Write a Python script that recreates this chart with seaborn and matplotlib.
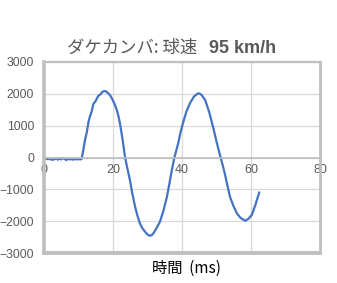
import matplotlib
matplotlib.use("Agg")
import matplotlib.pyplot as plt
import seaborn as sns
import pandas as pd
from matplotlib.ticker import MultipleLocator

# ---- data ----
time_ms = [0, 0.5, 1, 1.5, 2, 2.5, 3, 3.5, 4, 4.5, 5, 5.5, 6, 6.5, 7, 7.5, 8, 8.5, 9, 9.5, 10, 10.5, 10.9,
           11.4, 11.9, 12.4, 12.9, 13.3, 13.8, 14.3, 15.0, 15.7, 16.3, 17.0, 17.7, 18.4, 19.1, 19.8, 20.5,
           21.1, 21.6, 22.0, 22.4, 22.8, 23.5, 24.2, 24.9, 25.6, 26.4, 27.1, 27.8, 28.5, 29.3, 30.0, 30.7,
           31.2, 31.7, 32.6, 33.6, 34.6, 35.6, 36.3, 37.0, 37.8, 38.9, 39.6, 40.4, 41.3, 42.3, 43.5, 44.7,
           45.2, 45.7, 46.7, 47.9, 49.1, 50.0, 51.0, 52.0, 52.5, 53.2, 53.9, 54.9, 55.9, 57.0, 58.3, 59.2,
           60.2, 61.3, 62.4]
value = [-30, -40, -50, -45, -60, -70, -60, -20, -70, -30, -60, -20, -50, -80, -40, -60, -50, -70, -40, -60, -50, -60, -50,
         236, 560, 790, 1120, 1283, 1440, 1680, 1780, 1930, 1980, 2070, 2090, 2040, 1965, 1830, 1670,
         1494, 1290, 1075, 820, 550, 0, -360, -707, -1130, -1547, -1830, -2069, -2220, -2333, -2420, -2459,
         -2440, -2384, -2220, -2019, -1680, -1250, -850, -430, 0, 450, 800, 1126, 1450, 1704, 1920, 2019,
         2000, 1960, 1808, 1420, 918, 500, 79, -330, -550, -900, -1232, -1520, -1755, -1900, -1987, -1930,
         -1808, -1480, -1094]
x_ticks = [0, 20, 40, 60, 80]
y_ticks = [-3000, -2000, -1000, 0, 1000, 2000, 3000]
title_jp = "ダケカンバ: 球速"
title_speed = "95 km/h"
x_label = "時間  (ms)"

df = pd.DataFrame({"t": time_ms, "v": value})

sns.set_style("white")
plt.rcParams['font.family'] = ['Liberation Sans', 'Noto Sans CJK JP', 'DejaVu Sans']

fig = plt.figure(figsize=(3.37, 2.83), dpi=100)
ax = fig.add_axes([44/337, 1-253/283, (320-44)/337, (253-62)/283])

sns.lineplot(data=df, x="t", y="v", ax=ax, color="#4472C4", linewidth=1.6, estimator=None, sort=False)

ax.set_xlim(0, 80)
ax.set_ylim(-3000, 3000)
ax.set_xticks(x_ticks)
ax.set_yticks(y_ticks)
ax.yaxis.set_minor_locator(MultipleLocator(200))
ax.grid(True, which="major", color="#D9D9D9", linewidth=0.9)
ax.set_axisbelow(True)

grey = "#BFBFBF"
for s in ["left", "right", "top"]:
    ax.spines[s].set_visible(True)
    ax.spines[s].set_color(grey)
ax.spines["left"].set_linewidth(2.6)
ax.spines["right"].set_linewidth(2.0)
ax.spines["top"].set_linewidth(1.6)
ax.spines["bottom"].set_position(("data", 0))
ax.spines["bottom"].set_color("#BDBDBD")
ax.spines["bottom"].set_linewidth(1.2)
ax.axhline(-3000, color=grey, linewidth=2.8, clip_on=False, zorder=3)

ax.tick_params(axis="x", length=0, pad=5, labelsize=9, labelcolor="#595959")
ax.tick_params(axis="y", which="major", direction="in", length=3, width=0.8, color=grey,
               pad=7, labelsize=8.8, labelcolor="#595959")
ax.tick_params(axis="y", which="minor", direction="in", length=3, width=0.8, color=grey)
ax.set_xlabel("")
ax.set_ylabel("")

fig.text(186/337, 1-268/283, x_label, ha="center", va="center", fontsize=11, color="black",
         family=['Noto Sans CJK JP', 'Liberation Sans'])
fig.text(197/337, 1-53/283, title_jp, ha="right", va="baseline", fontsize=12.5, color="#595959",
         family=['Noto Sans CJK JP', 'Liberation Sans'])
fig.text(209/337, 1-53/283, title_speed, ha="left", va="baseline", fontsize=13, color="#595959",
         fontweight="bold", family=['Liberation Sans'])

fig.savefig("out.png", dpi=100)
